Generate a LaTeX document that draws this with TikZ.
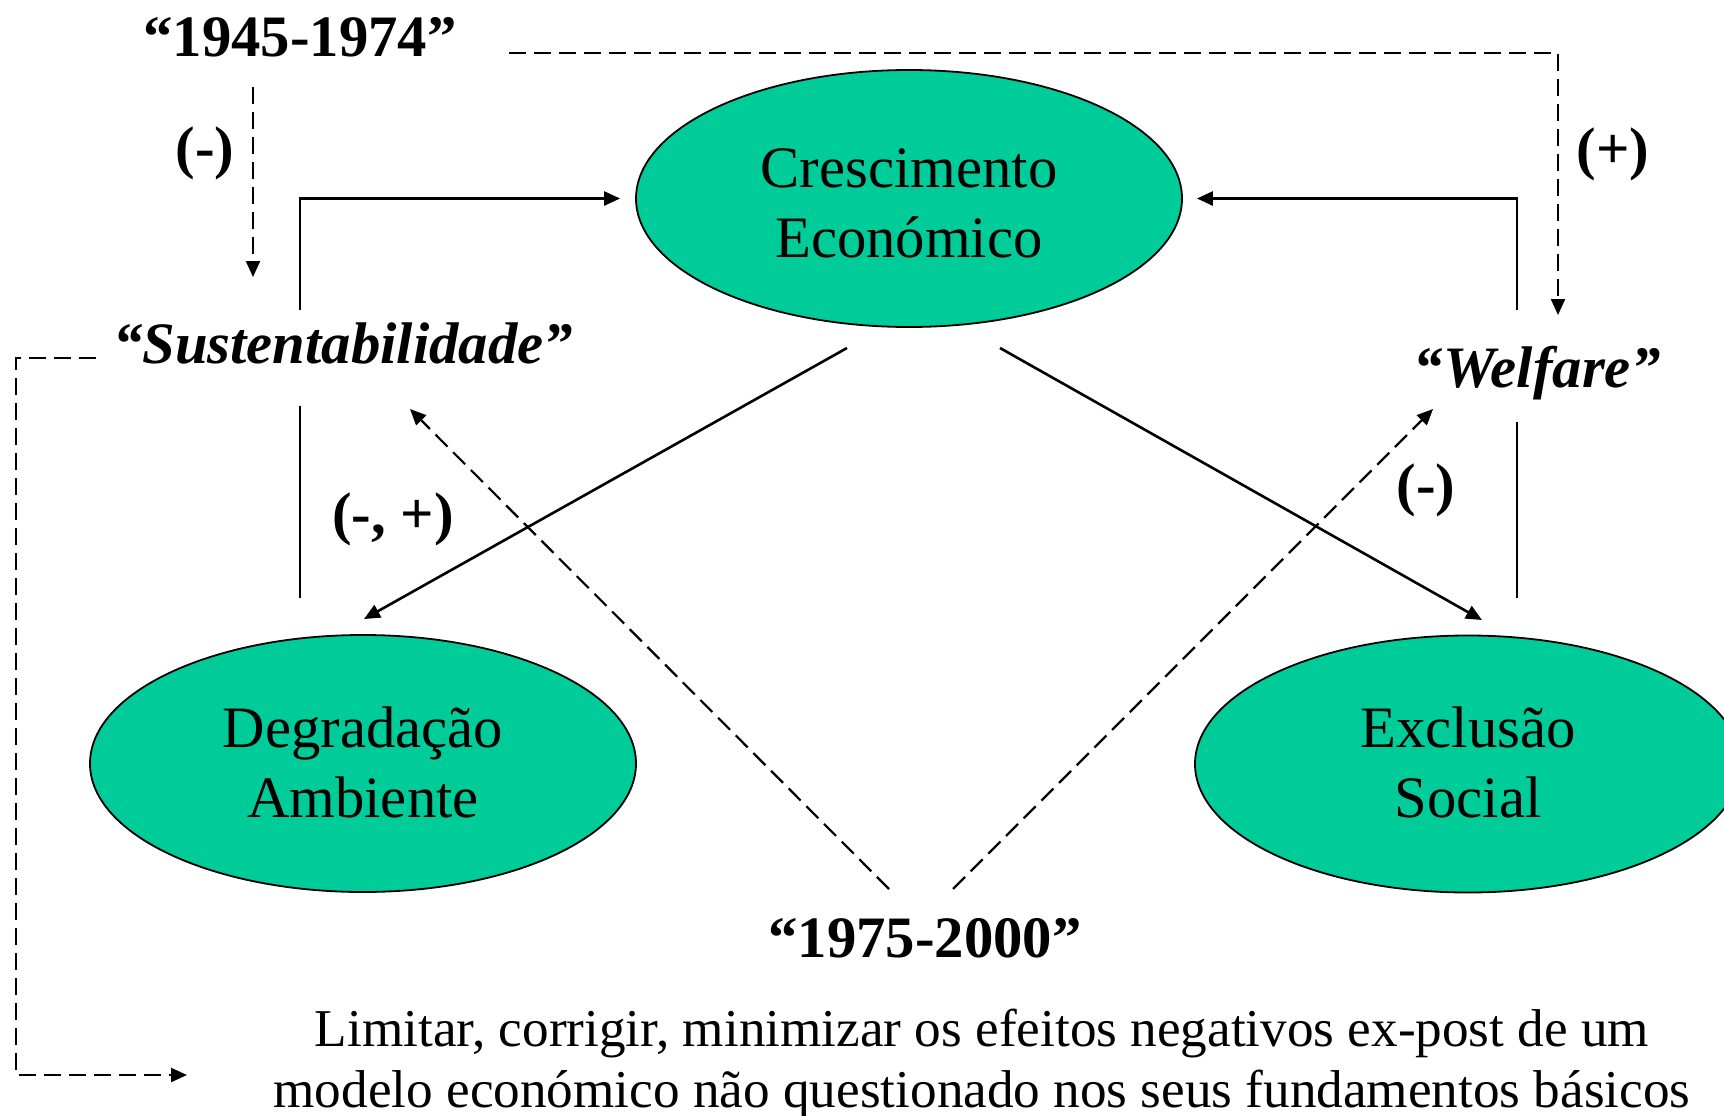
\documentclass[tikz,border=0pt]{standalone}
\usepackage{fontspec}
\setmainfont{Liberation Serif}
\usetikzlibrary{arrows.meta,shapes.geometric,calc}
\definecolor{blobfill}{HTML}{00CC99}
\begin{document}
\begin{tikzpicture}[x=1pt,y=-1pt,
  blob/.style={ellipse,draw=black,line width=1.8pt,fill=blobfill,minimum width=546pt,minimum height=257pt,inner sep=0pt,align=center,font=\fontsize{58.7pt}{70pt}\selectfont},
  lbl/.style={inner sep=0pt,font=\fontsize{58.7pt}{70pt}\selectfont\bfseries},
  ilbl/.style={inner sep=0pt,font=\fontsize{58.7pt}{70pt}\selectfont\bfseries\itshape},
  conn/.style={line width=2.6pt},
  arr/.style={conn,-{Triangle[length=16pt,width=14pt]}},
  dconn/.style={line width=2.2pt,dash pattern=on 17pt off 8pt},
  darr/.style={dconn,-{Triangle[length=16pt,width=14pt]}}
]
\useasboundingbox (0,0) rectangle (1724,1116);
\clip (0,0) rectangle (1724,1116);
\fill[white] (0,0) rectangle (1724,1116);

% ellipses
\node[blob] (cres) at (909,198.5) {\rule{0pt}{49pt}Crescimento\\Económico};
\node[blob] (deg) at (363,763.5) {\rule{0pt}{49pt}Degradação\\Ambiente\rule[-12pt]{0pt}{12pt}};
\node[blob] (exc) at (1468,764) {\rule{0pt}{49pt}Exclusão\\Social\rule[-12pt]{0pt}{12pt}};

% text labels
\node[lbl,anchor=base] (y1945) at (300,57) {“1945-1974”};
\node[lbl,anchor=base] (y1975) at (925,957) {“1975-2000”};
\node[ilbl,anchor=base] (sus) at (343,363) {“Sustentabilidade”};
\node[ilbl,anchor=base] (wel) at (1537,387) {“Welfare”};
\node[lbl] (m1) at (205,153) {(-)};
\node[lbl] (p1) at (1613,154) {(+)};
\node[lbl] (mp) at (393,519.5) {(-, +)};
\node[lbl] (m2) at (1426,490) {(-)};
\node[inner sep=0pt,align=center,font=\fontsize{53.2pt}{61pt}\selectfont] (note) at (982,1064)
  {Limitar, corrigir, minimizar os efeitos negativos ex-post de um\\modelo económico não questionado nos seus fundamentos básicos};

% free ends
\coordinate (sA) at (300,310);
\coordinate (sB) at (300,406);
\coordinate (sC) at (300,598);
\coordinate (wA) at (1517,310);
\coordinate (wB) at (1517,422);
\coordinate (wC) at (1517,598);

% solid connectors
\draw[arr,shorten >=15pt] (sA) |- (cres.west);
\draw[arr,shorten >=14pt] (wA) |- (cres.east);
\draw[conn] (sB) -- (sC);
\draw[conn] (wB) -- (wC);
\draw[arr] ($(cres.center)+(-62,149.5)$) -- ($(deg.center)+(1,-144.5)$);
\draw[arr] ($(cres.center)+(91,149.5)$) -- ($(exc.center)+(14,-144)$);

% dashed connectors
\draw[darr] ($(y1945.base)+(-47,30)$) -- ($(y1945.base)+(-47,220)$);
\draw[darr] ($(y1945.base)+(209,-4)$) -| ($(wel.base)+(21,-72)$);
\draw[darr] ($(y1975.base)+(-36,-68)$) -- ($(sus.base)+(67,46)$);
\draw[darr] ($(y1975.base)+(28,-68)$) -- ($(wel.base)+(-104,22)$);
\draw[darr] ($(sus.base)+(-247,-5)$) -- (16,358) |- (187,1075);
\end{tikzpicture}
\end{document}
